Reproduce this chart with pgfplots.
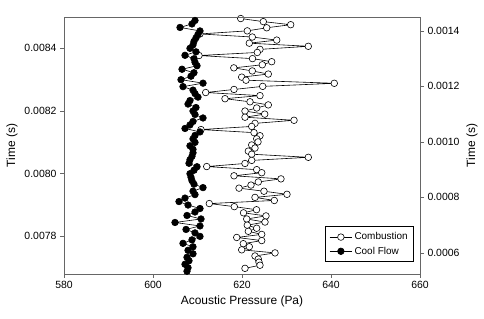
\documentclass[border=0pt]{standalone}
\usepackage{pgfplots}
\pgfplotsset{compat=1.18}
\usepackage{pgfplotstable}
\usepackage{fontspec}
\setmainfont{Liberation Sans}
\definecolor{framegray}{HTML}{666666}

\pgfplotstableread{
t x
0.0014444 619.71
0.0014333 624.79
0.0014222 630.94
0.0014111 625.55
0.0014000 621.19
0.0013889 610.56
0.0013778 622.31
0.0013667 627.80
0.0013556 621.64
0.0013444 634.90
0.0013333 624.04
0.0013222 623.44
0.0013111 610.34
0.0013000 622.36
0.0012889 626.67
0.0012778 624.56
0.0012667 618.16
0.0012556 622.31
0.0012444 625.91
0.0012333 619.93
0.0012222 620.90
0.0012111 640.74
0.0012000 624.65
0.0011889 618.20
0.0011778 611.84
0.0011667 624.04
0.0011556 616.18
0.0011444 621.80
0.0011333 625.91
0.0011222 623.30
0.0011111 620.67
0.0011000 625.10
0.0010889 620.67
0.0010778 631.69
0.0010667 622.92
0.0010556 622.18
0.0010444 610.79
0.0010333 622.70
0.0010222 624.04
0.0010111 623.30
0.0010000 623.60
0.0009889 622.18
0.0009778 622.92
0.0009667 621.42
0.0009556 622.18
0.0009444 634.90
0.0009333 622.18
0.0009222 620.67
0.0009111 612.07
0.0009000 623.30
0.0008889 624.43
0.0008778 618.20
0.0008667 628.76
0.0008556 623.66
0.0008444 622.02
0.0008333 619.33
0.0008222 624.94
0.0008111 630.11
0.0008000 622.92
0.0007889 627.26
0.0007778 612.65
0.0007667 618.27
0.0007556 623.26
0.0007444 620.34
0.0007333 625.39
0.0007222 621.06
0.0007111 625.17
0.0007000 621.19
0.0006889 623.30
0.0006778 621.42
0.0006667 624.43
0.0006556 618.81
0.0006444 624.43
0.0006333 620.29
0.0006222 621.64
0.0006111 619.93
0.0006000 627.42
0.0005889 622.92
0.0005778 623.66
0.0005667 623.82
0.0005556 624.04
0.0005444 620.67
}\combustion

\pgfplotstableread{
t x
0.0084889 609.44
0.0084778 608.76
0.0084667 606.07
0.0084556 610.56
0.0084444 610.11
0.0084333 609.66
0.0084222 609.21
0.0084111 608.99
0.0084000 608.31
0.0083889 609.66
0.0083778 607.19
0.0083667 609.21
0.0083556 609.44
0.0083444 609.89
0.0083333 606.52
0.0083222 609.21
0.0083111 608.54
0.0083000 606.29
0.0082889 611.24
0.0082778 606.74
0.0082667 608.99
0.0082556 609.44
0.0082444 610.11
0.0082333 608.31
0.0082222 607.87
0.0082111 609.66
0.0082000 608.99
0.0081889 609.44
0.0081778 611.24
0.0081667 608.99
0.0081556 608.31
0.0081444 607.19
0.0081333 610.56
0.0081222 609.44
0.0081111 608.99
0.0081000 609.44
0.0080889 608.31
0.0080778 608.99
0.0080667 608.99
0.0080556 608.76
0.0080444 608.31
0.0080333 608.09
0.0080222 609.89
0.0080111 609.21
0.0080000 608.31
0.0079889 608.54
0.0079778 608.76
0.0079667 609.21
0.0079556 611.24
0.0079444 608.99
0.0079333 609.44
0.0079222 607.19
0.0079111 605.84
0.0079000 607.87
0.0078889 610.56
0.0078778 609.44
0.0078667 607.64
0.0078556 610.79
0.0078444 604.94
0.0078333 610.56
0.0078222 607.42
0.0078111 609.44
0.0078000 610.56
0.0077889 608.76
0.0077778 606.74
0.0077667 608.99
0.0077556 607.87
0.0077444 608.99
0.0077333 607.64
0.0077222 608.09
0.0077111 607.19
0.0077000 607.87
0.0076889 607.64
}\coolflow

\pgfplotsset{
  common/.style={
    scale only axis,
    width=356bp, height=257bp,
    xmin=580, xmax=660,
    tick align=outside,
    major tick length=4bp,
    tick style={framegray, line width=0.6pt},
    axis line style={framegray, line width=0.9pt},
    scaled y ticks=false,
    tick label style={font=\fontsize{10.5}{12}\selectfont},
    label style={font=\fontsize{12}{14}\selectfont},
    yticklabel style={/pgf/number format/.cd, fixed, fixed zerofill, precision=4, assume math mode=true},
    xticklabel style={/pgf/number format/assume math mode=true},
  },
}

\begin{document}
\begin{tikzpicture}
% Combustion: right axis
\begin{axis}[common,
  axis x line=none,
  axis y line*=right,
  ymin=0.000524, ymax=0.00145,
  ytick={0.0006,0.0008,0.0010,0.0012,0.0014},
  ylabel={Time (s)},
]
\addplot[black, line width=0.6pt, mark=*, mark size=3.3bp,
  mark options={fill=white, draw=black, line width=0.6pt}] table[x=x, y=t] {\combustion};
\end{axis}
% Cool Flow: left axis
\begin{axis}[common,
  ymin=0.00768, ymax=0.0085,
  ytick={0.0078,0.0080,0.0082,0.0084},
  xtick={580,600,620,640,660},
  xtick pos=bottom, ytick pos=left,
  xlabel={Acoustic Pressure (Pa)},
  ylabel={Time (s)},
  legend style={at={(rel axis cs:0.983,0.047)}, anchor=south east,
    draw=black, line width=0.6pt, font=\fontsize{10}{12}\selectfont,
    inner xsep=4pt, inner ysep=4pt, row sep=1.5pt},
  legend cell align=left,
  legend image code/.code={%
    \draw[mark repeat=2,mark phase=2,#1] plot coordinates {(0cm,0cm) (0.4cm,0cm) (0.8cm,0cm)};},
]
\addlegendimage{black, line width=0.6pt, mark=*, mark size=3.3bp,
  mark options={fill=white, draw=black, line width=0.6pt}}
\addlegendentry{Combustion}
\addplot[black, line width=0.6pt, mark=*, mark size=3.3bp,
  mark options={fill=black, draw=black}] table[x=x, y=t] {\coolflow};
\addlegendentry{Cool Flow}
\end{axis}
\pgfresetboundingbox
\path[use as bounding box] ([xshift=-64bp,yshift=-45bp]current axis.south west) rectangle ([xshift=64bp,yshift=17bp]current axis.north east);
\end{tikzpicture}
\end{document}
